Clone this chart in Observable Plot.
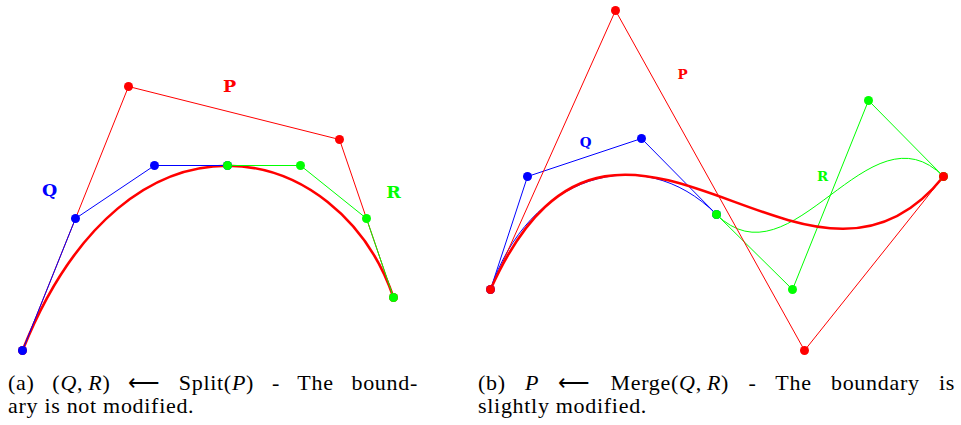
<!DOCTYPE html>
<html>
<head>
<meta charset="utf-8">
<script src="https://cdn.jsdelivr.net/npm/d3@7"></script>
<script src="https://cdn.jsdelivr.net/npm/@observablehq/plot@0.6"></script>
<style>
  html, body { margin: 0; padding: 0; background: #fff; }
  #root { position: relative; width: 961px; height: 425px; overflow: hidden; }
  #root svg { position: absolute; top: 0; }
  .cap { position: absolute; top: 371px; font-family: "Liberation Serif", serif; font-size: 22px; letter-spacing: 0.7px; line-height: 23px; color: #000; }
  .cap div { white-space: nowrap; }
  .cap .j { text-align: justify; text-align-last: justify; }
  .cap .m { display: inline-block; }
</style>
</head>
<body>
<div id="root"></div>
<script>
// Control polygons (panel (a): split; panel (b): merge)
const splitP = [[22, 350], [128, 86], [339, 139], [393, 297]];
const splitQ = [[22, 350], [75, 218], [154, 165], [227, 165]];
const splitR = [[227, 165], [300, 165], [366, 218], [393, 297]];

const mergeP = [[490, 289], [615, 10], [804, 350], [943, 176]];
const mergeQ = [[490, 289], [527, 176], [641, 138], [716, 214]];
const mergeR = [[716, 214], [792, 289], [868, 100], [943, 176]];

// label names and their anchor points
const labelNames = ["P", "Q", "R"];
const splitLabelAt = [[229, 86], [49, 190], [393, 192]];
const mergeLabelAt = [[682, 74], [585, 142], [822, 176]];

const RED = "#ff0000", BLUE = "#0000ff", GREEN = "#00ff00";
const labelColors = [RED, BLUE, GREEN];

// Custom curve: a cubic Bézier through its 4 control points
function bezier(context) {
  let pts = [];
  return {
    areaStart() {}, areaEnd() {},
    lineStart() { pts = []; },
    point(x, y) { pts.push([+x, +y]); },
    lineEnd() {
      if (pts.length === 4) {
        context.moveTo(pts[0][0], pts[0][1]);
        context.bezierCurveTo(pts[1][0], pts[1][1], pts[2][0], pts[2][1], pts[3][0], pts[3][1]);
      }
    }
  };
}

const pt = {x: d => d[0], y: d => d[1]};
const labels = (at) => labelNames.map((t, i) => ({t, x: at[i][0], y: at[i][1], c: labelColors[i]}));

function base(x0, x1, marks) {
  return Plot.plot({
    width: x1 - x0, height: 362,
    margin: 0,
    x: {domain: [x0, x1], axis: null},
    y: {domain: [0, 362], reverse: true, axis: null},
    marks
  });
}

const left = base(0, 480, [
  Plot.line(splitP, {...pt, stroke: RED, strokeWidth: 1}),
  Plot.line(splitP, {...pt, stroke: RED, strokeWidth: 2.6, curve: bezier}),
  Plot.line(splitQ, {...pt, stroke: BLUE, strokeWidth: 1}),
  Plot.line(splitR, {...pt, stroke: GREEN, strokeWidth: 1}),
  Plot.dot(splitP, {...pt, fill: RED, r: 4.5}),
  Plot.dot(splitQ, {...pt, fill: BLUE, r: 4.5}),
  Plot.dot(splitR, {...pt, fill: GREEN, r: 4.5}),
  Plot.text(labels(splitLabelAt), {x: "x", y: "y", text: "t", fill: "c", fontSize: 17.5, fontWeight: "bold", fontFamily: "DejaVu Serif"})
]);

const right = base(480, 961, [
  Plot.line(mergeQ, {...pt, stroke: BLUE, strokeWidth: 1}),
  Plot.line(mergeQ, {...pt, stroke: BLUE, strokeWidth: 1, curve: bezier}),
  Plot.line(mergeR, {...pt, stroke: GREEN, strokeWidth: 1}),
  Plot.line(mergeR, {...pt, stroke: GREEN, strokeWidth: 1, curve: bezier}),
  Plot.line(mergeP, {...pt, stroke: RED, strokeWidth: 1}),
  Plot.line(mergeP, {...pt, stroke: RED, strokeWidth: 2.6, curve: bezier}),
  Plot.dot(mergeQ, {...pt, fill: BLUE, r: 4.5}),
  Plot.dot(mergeR, {...pt, fill: GREEN, r: 4.5}),
  Plot.dot(mergeP, {...pt, fill: RED, r: 4.5}),
  Plot.text(labels(mergeLabelAt), {x: "x", y: "y", text: "t", fill: "c", fontSize: 13.5, fontWeight: "bold", fontFamily: "DejaVu Serif"})
]);

const root = document.getElementById("root");
left.style.left = "0px";
right.style.left = "480px";
root.appendChild(left);
root.appendChild(right);

const capA = document.createElement("div");
capA.className = "cap";
capA.style.left = "8px";
capA.style.width = "410px";
capA.innerHTML = '<div class="j">(a) <span class="m">(<i>Q</i>,&#8201;<i>R</i>)</span> \u27F5 Split(<i>P</i>) - The bound-</div><div>ary is not modified.</div>';
root.appendChild(capA);

const capB = document.createElement("div");
capB.className = "cap";
capB.style.left = "478px";
capB.style.width = "477px";
capB.innerHTML = '<div class="j">(b) <i>P</i> \u27F5 <span class="m">Merge(<i>Q</i>,&#8201;<i>R</i>)</span> - The boundary is</div><div>slightly modified.</div>';
root.appendChild(capB);
</script>
</body>
</html>
